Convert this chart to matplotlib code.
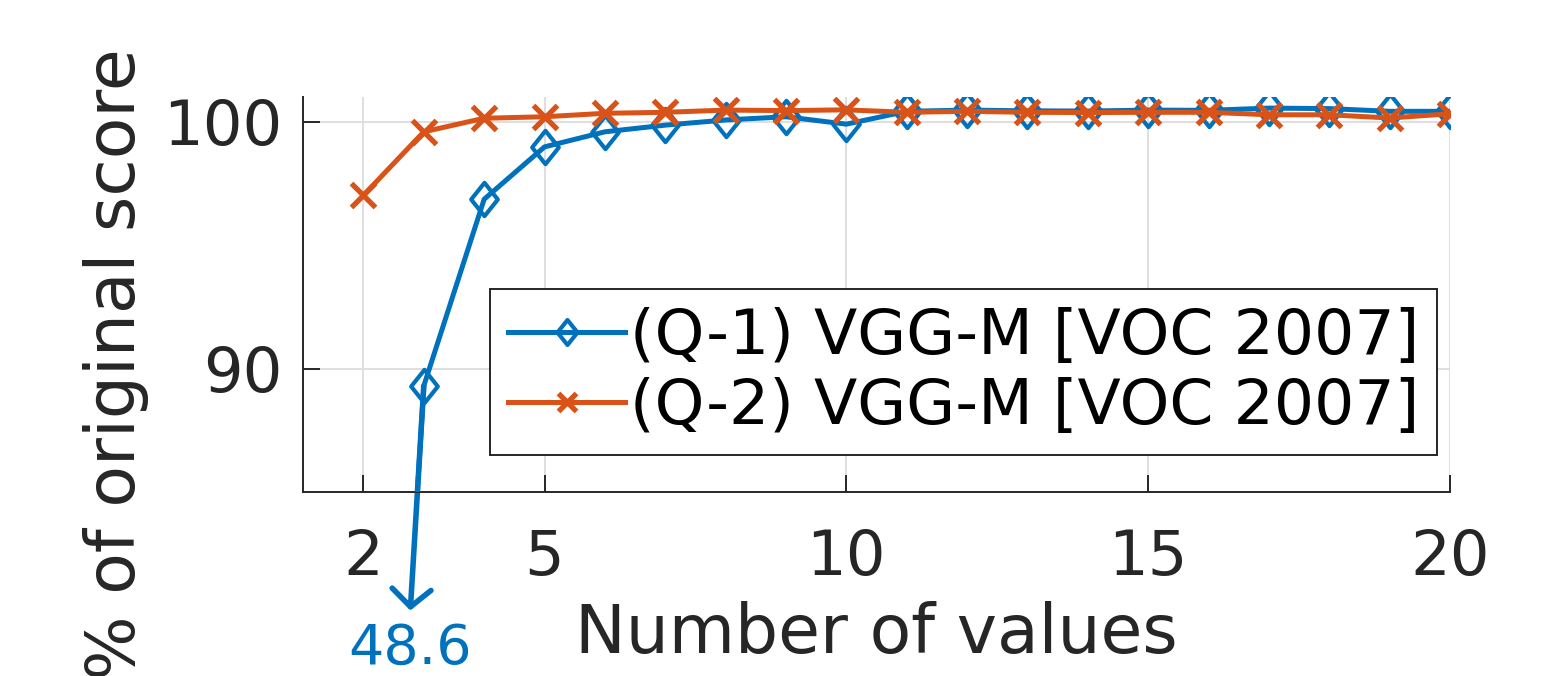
import matplotlib
matplotlib.use("Agg")
import matplotlib.pyplot as plt
from matplotlib.path import Path

# data
n_values = [2, 3, 4, 5, 6, 7, 8, 9, 10, 11, 12, 13, 14, 15, 16, 17, 18, 19, 20]
q1_score = [48.6, 89.3, 96.86, 98.98, 99.59, 99.86, 100.07, 100.2, 99.9, 100.42,
            100.47, 100.44, 100.43, 100.47, 100.46, 100.55, 100.53, 100.42, 100.42]
q2_score = [97.02, 99.59, 100.14, 100.2, 100.34, 100.38, 100.47, 100.45, 100.48, 100.38,
            100.42, 100.38, 100.37, 100.38, 100.38, 100.28, 100.28, 100.15, 100.32]
labels = ["(Q-1) VGG-M [VOC 2007]", "(Q-2) VGG-M [VOC 2007]"]
x_ticks = [2, 5, 10, 15, 20]
y_ticks = [90, 100]

blue = "#0072BD"
orange = "#D95319"
dark = "#262626"

plt.rcParams['font.family'] = ['DejaVu Sans']

fig = plt.figure(figsize=(15.63, 6.76), dpi=100)
ax = fig.add_axes([0.1939, 0.2722, 0.7338, 0.5843])

# open diamond, a bit taller than wide
diamond = Path([(0, 1), (0.8, 0), (0, -1), (-0.8, 0), (0, 1)],
               [Path.MOVETO, Path.LINETO, Path.LINETO, Path.LINETO, Path.CLOSEPOLY])

ax.plot(n_values, q1_score, color=blue, lw=3.6, marker=diamond, ms=24,
        mfc="none", mec=blue, mew=3.0, label=labels[0], zorder=3)
ax.plot(n_values, q2_score, color=orange, lw=3.6, marker="x", ms=17,
        mew=3.8, label=labels[1], zorder=4)

ax.set_xlim(1, 20)
ax.set_ylim(85, 101)

# arrow for the off-scale first point of Q-1
stop_y = 80.2
x0, y0 = n_values[1], q1_score[1]
x1, y1 = n_values[0], q1_score[0]
stop_x = x0 + (x1 - x0) * (y0 - stop_y) / (y0 - y1)
ax.annotate("", xy=(stop_x, stop_y), xytext=(x0, y0), annotation_clip=False,
            arrowprops=dict(arrowstyle="->,head_length=0.45,head_width=0.5",
                            color=blue, lw=4, mutation_scale=28,
                            shrinkA=0, shrinkB=0), zorder=2)
ax.text(stop_x, stop_y - 0.45, f"{q1_score[0]:.1f}", color=blue, fontsize=40,
        ha="center", va="top", clip_on=False)

ax.set_xticks(x_ticks)
ax.set_yticks(y_ticks)
ax.tick_params(direction="in", length=12, width=1.4, colors=dark,
               labelsize=45, top=False, right=False)
ax.tick_params(axis="x", pad=26)
ax.tick_params(axis="y", pad=15)
ax.grid(True, color="#dfdfdf", lw=1.4)
ax.set_axisbelow(True)

for side in ["top", "right"]:
    ax.spines[side].set_visible(False)
for side in ["left", "bottom"]:
    ax.spines[side].set_color(dark)
    ax.spines[side].set_linewidth(1.4)

ax.set_xlabel("Number of values", fontsize=49, color=dark, va="top")
ax.xaxis.set_label_coords(0.5, -0.275)
fig.text(0.0742, 0.4615, "% of original score", rotation=90, fontsize=49,
         color=dark, ha="center", va="center")

leg = ax.legend(loc="lower right", bbox_to_anchor=(0.9887, 0.094),
                borderaxespad=0, fontsize=45.5, handlelength=1.85,
                handletextpad=0.08, labelspacing=0.16, borderpad=0.28,
                fancybox=False, framealpha=1, edgecolor=dark,
                markerscale=0.75)
leg.get_frame().set_linewidth(1.4)

fig.savefig("out.png", dpi=100)
